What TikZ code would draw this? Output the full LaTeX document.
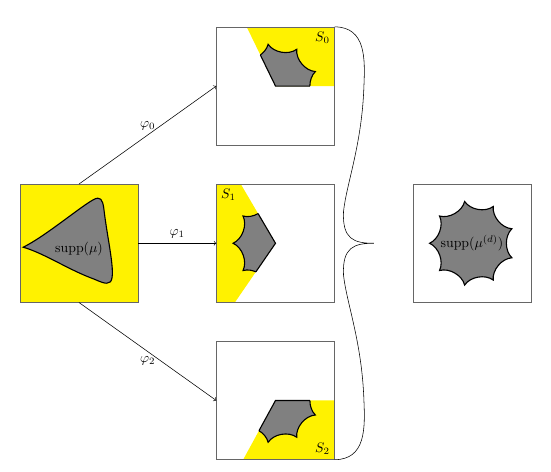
\documentclass[tikz,border=0pt]{standalone}

\tikzset{
  box/.style={draw=black!60, minimum size=3cm, inner sep=0pt},
  sector/.style={fill=yellow},
  supp/.style={fill=gray, draw=black, thick},
}

% star shaped support, centred at the origin
\newcommand{\suppstar}{(20:1.08) \foreach \a in {20,60,...,300} {.. controls ({\a+7}:0.85) and ({\a+33}:0.85) .. ({\a+40}:1.08)} .. controls (347:0.85) and (373:0.85) .. cycle}

% sector #2 (seen from centre #1) with its part of the support
\newcommand{\suppwedge}[2]{%
  \begin{scope}[shift={#1}]
    \fill[sector] (0,0) -- #2 -- cycle;
    \begin{scope}
      \clip (0,0) -- #2 -- cycle;
      \draw[supp] \suppstar;
    \end{scope}
    \begin{scope}
      \clip \suppstar;
      \draw[thick] (0,0) -- #2 -- cycle;
    \end{scope}
  \end{scope}}

\begin{document}
\begin{tikzpicture}
  \useasboundingbox (-0.51,-4.31) rectangle (13.51,7.69);

  \suppwedge{(6.5,5.5)}{(1.5,0) -- (1.5,1.5) -- (-0.73,1.5)}
  \suppwedge{(6.5,1.5)}{(-0.88,1.5) -- (-1.5,1.5) -- (-1.5,-1.5) -- (-1.03,-1.5)}
  \suppwedge{(6.5,-2.5)}{(-0.82,-1.5) -- (1.5,-1.5) -- (1.5,0)}

  \node[box, fill=yellow] (L) at (1.5,1.5) {};
  \node[box] (T) at (6.5,5.5) {};
  \node[box] (M) at (6.5,1.5) {};
  \node[box] (B) at (6.5,-2.5) {};
  \node[box] (R) at (11.5,1.5) {};

  \draw[supp] (0.08,1.4) .. controls (0.6,1.65) and (1.5,2.4) .. (1.85,2.6)
    .. controls (2.05,2.72) and (2.1,2.6) .. (2.13,2.4)
    .. controls (2.22,1.6) and (2.45,0.7) .. (2.3,0.52)
    .. controls (2.2,0.42) and (2.0,0.55) .. (1.8,0.62)
    .. controls (1.2,0.85) and (0.6,1.25) .. cycle;
  \node (suppL) at (1.5,1.36) {$\mathrm{supp}(\mu)$};

  \draw[supp, shift={(11.5,1.5)}] \suppstar;
  \node (suppR) at (11.5,1.5) {$\mathrm{supp}(\mu^{(d)})$};

  \node[anchor=north east] (S0) at (T.north east) {$S_0$};
  \node[anchor=north west] (S1) at (M.north west) {$S_1$};
  \node[anchor=south east] (S2) at (B.south east) {$S_2$};

  \draw[->] (L.north) -- node [above] {$\varphi_0$} (T.west);
  \draw[->] (L.east) -- node [above] {$\varphi_1$} (M.west);
  \draw[->] (L.south) -- node [below] {$\varphi_2$} (B.west);

  % brace
  \coordinate (tip) at (9,1.5);
  \draw (T.north east) .. controls (8.8,7) and (8.78,6.2) .. (8.75,5.5)
    .. controls (8.7,4) and (8.3,3) .. (8.23,2.3)
    .. controls (8.2,1.6) and (8.5,1.5) .. (tip)
    .. controls (8.5,1.5) and (8.2,1.4) .. (8.23,0.7)
    .. controls (8.3,0) and (8.7,-1) .. (8.75,-2.5)
    .. controls (8.78,-3.2) and (8.8,-4) .. (B.south east);
\end{tikzpicture}
\end{document}
